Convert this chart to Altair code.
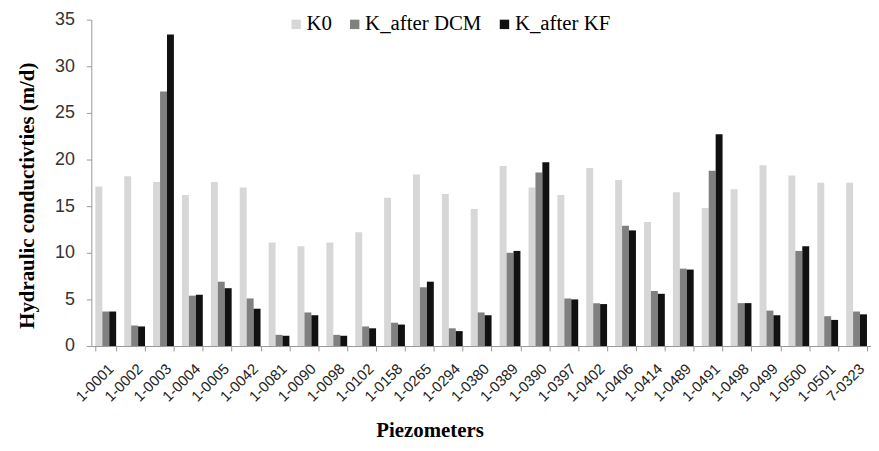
import altair as alt
import pandas as pd

piezometers = ["1-0001", "1-0002", "1-0003", "1-0004", "1-0005", "1-0042", "1-0081",
               "1-0090", "1-0098", "1-0102", "1-0158", "1-0265", "1-0294", "1-0380",
               "1-0389", "1-0390", "1-0397", "1-0402", "1-0406", "1-0414", "1-0489",
               "1-0491", "1-0498", "1-0499", "1-0500", "1-0501", "7-0323"]
k0 = [17.1, 18.2, 17.6, 16.2, 17.6, 17.0, 11.1, 10.7, 11.1, 12.2, 15.9, 18.4, 16.3, 14.7,
      19.3, 17.0, 16.2, 19.1, 17.8, 13.3, 16.5, 14.8, 16.8, 19.4, 18.3, 17.5, 17.5]
k_dcm = [3.7, 2.2, 27.3, 5.4, 6.9, 5.1, 1.2, 3.6, 1.2, 2.1, 2.5, 6.3, 1.9, 3.6,
         10.0, 18.6, 5.1, 4.6, 12.9, 5.9, 8.3, 18.8, 4.6, 3.8, 10.2, 3.2, 3.7]
k_kf = [3.7, 2.1, 33.4, 5.5, 6.2, 4.0, 1.1, 3.3, 1.1, 1.9, 2.3, 6.9, 1.6, 3.3,
        10.2, 19.7, 5.0, 4.5, 12.4, 5.6, 8.2, 22.7, 4.6, 3.3, 10.7, 2.8, 3.4]
series_names = ["K0", "K_after DCM", "K_after KF"]
series_colors = ["#d7d7d7", "#808080", "#111111"]
y_ticks = [0, 5, 10, 15, 20, 25, 30, 35]

rows = []
for i, p in enumerate(piezometers):
    for name, vals in zip(series_names, [k0, k_dcm, k_kf]):
        rows.append({"Piezometer": p, "Series": name, "Value": vals[i]})
df = pd.DataFrame(rows)

chart = alt.Chart(df).mark_bar().encode(
    x=alt.X("Piezometer:N", sort=piezometers,
            scale=alt.Scale(paddingInner=0.28, paddingOuter=0.14),
            axis=alt.Axis(title="Piezometers", titleFont="Liberation Serif",
                          titleFontSize=21, titleFontWeight="bold", titleColor="#000",
                          titleX=341, titleY=91, titleBaseline="alphabetic",
                          labelAngle=-45, labelFont="Liberation Sans", labelFontSize=15,
                          labelColor="#222", labelPadding=10, tickBand="extent",
                          tickSize=5, tickColor="#999", domainColor="#999")),
    xOffset=alt.XOffset("Series:N", sort=series_names,
                        scale=alt.Scale(paddingInner=0, paddingOuter=0)),
    y=alt.Y("Value:Q", scale=alt.Scale(domain=[0, 35]),
            axis=alt.Axis(title="Hydraulic conductivties (m/d)", values=y_ticks,
                          titleFont="Liberation Serif", titleFontSize=21,
                          titleFontWeight="bold", titleColor="#000",
                          titleX=-58, titleY=177, titleBaseline="alphabetic",
                          titleAngle=-90, titleAlign="center",
                          labelFont="Liberation Sans", labelFontSize=18,
                          labelColor="#333", labelPadding=12, grid=False,
                          tickSize=5, tickColor="#999", domainColor="#999")),
    color=alt.Color("Series:N", sort=series_names,
                    scale=alt.Scale(domain=series_names, range=series_colors),
                    legend=alt.Legend(title=None, orient="none", direction="horizontal",
                                      columns=3, legendX=196, legendY=-6,
                                      labelFont="Liberation Serif", labelFontSize=21,
                                      labelColor="#000", symbolType="square",
                                      symbolSize=90, symbolStrokeWidth=0,
                                      columnPadding=12, labelOffset=0)),
).properties(
    width=786, height=329,
    autosize=alt.AutoSizeParams(type="none"),
    padding={"left": 84, "top": 10, "right": 0, "bottom": 96},
).configure_view(stroke=None)

chart.save("out.html", embed_options={"renderer": "svg", "actions": False})
